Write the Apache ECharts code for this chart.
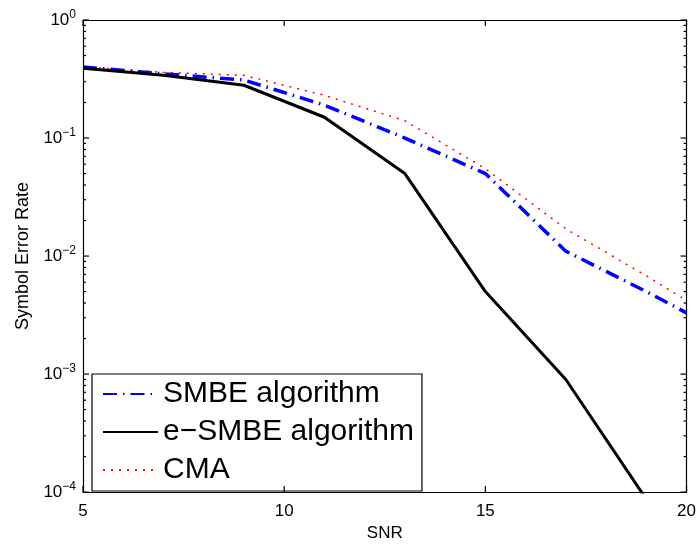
<!DOCTYPE html>
<html>
<head>
<meta charset="utf-8">
<script src="https://cdn.jsdelivr.net/npm/echarts@6/dist/echarts.min.js"></script>
<style>
  html, body { margin: 0; padding: 0; background: #fff; }
  #chart { width: 699px; height: 547px; }
</style>
</head>
<body>
<div id="chart"></div>
<script>
'use strict';

// SNR points (dB)
var snr = [5, 7, 9, 11, 13, 15, 17, 19, 20];

// symbol error rate
var smbe = [0.40, 0.35, 0.31, 0.19, 0.10, 0.05, 0.011, 0.005, 0.0033];
var esmbe = [0.39, 0.34, 0.28, 0.15, 0.05, 0.005, 0.0009, 0.000087, 0.00003];
var cma = [0.40, 0.36, 0.34, 0.23, 0.14, 0.055, 0.017, 0.0068, 0.0042];

var seriesNames = ['SMBE algorithm', 'e\u2212SMBE algorithm', 'CMA'];

// tick values
var xTicks = [5, 10, 15, 20];
var yMajor = [0.0001, 0.001, 0.01, 0.1, 1];
var yMinor = [];
for (var k = -4; k < 0; k++) {
  for (var m = 2; m <= 9; m++) {
    yMinor.push(m * Math.pow(10, k));
  }
}

var pairs = function(xs, ys) {
  return xs.map(function(x, i) { return [x, ys[i]]; });
};

var font = 'Liberation Sans, Arial, Helvetica, sans-serif';

var yLabel = {
  fontFamily: font,
  color: '#000',
  margin: 7,
  formatter: function(v) {
    var e = Math.round(Math.log(v) / Math.LN10);
    return '{b|10}{s|' + (e < 0 ? '\u2212' + (-e) : e) + '}';
  },
  rich: {
    b: { fontSize: 17, fontFamily: font, color: '#000' },
    s: { fontSize: 12, fontFamily: font, color: '#000', verticalAlign: 'bottom', padding: [0, 0, 11, 0] }
  }
};

var logAxis = function(withLabels) {
  var ax = {
    type: 'log', logBase: 10, min: 0.0001, max: 1,
    axisLine: { show: true, onZero: false, lineStyle: { color: '#000', width: 1.2 } },
    axisTick: { show: false },
    axisLabel: withLabels ? yLabel : { show: false },
    splitLine: { show: false }
  };
  if (withLabels) {
    ax.name = 'Symbol Error Rate';
    ax.nameLocation = 'middle';
    ax.nameGap = 50;
    ax.nameTextStyle = { fontFamily: font, fontSize: 18, color: '#000' };
  } else {
    ax.position = 'right';
  }
  return ax;
};

var snrAxis = function(withLabels) {
  var ax = {
    type: 'value', min: 5, max: 20, interval: 5,
    axisLine: { show: true, onZero: false, lineStyle: { color: '#000', width: 1.2 } },
    axisTick: { show: false },
    axisLabel: withLabels ? { fontFamily: font, fontSize: 17, color: '#000', margin: 11 } : { show: false },
    splitLine: { show: false }
  };
  if (withLabels) {
    ax.name = 'SNR';
    ax.nameLocation = 'middle';
    ax.nameGap = 31;
    ax.nameTextStyle = { fontFamily: font, fontSize: 17, color: '#000' };
  } else {
    ax.position = 'top';
  }
  return ax;
};

var chart = echarts.init(document.getElementById('chart'));

chart.setOption({
  animation: false,
  backgroundColor: '#fff',
  grid: { left: 83, right: 11, top: 20, bottom: 50, containLabel: false },
  xAxis: [snrAxis(true), snrAxis(false)],
  yAxis: [logAxis(true), logAxis(false)],
  legend: {
    orient: 'vertical',
    left: 92, top: 374,
    padding: [5, 8, 6, 10],
    itemWidth: 55, itemHeight: 14, itemGap: 8,
    backgroundColor: '#fff',
    borderColor: '#000', borderWidth: 1.2, borderRadius: 0,
    itemStyle: { opacity: 0 },
    textStyle: { fontFamily: font, fontSize: 30, color: '#000', lineHeight: 29 },
    data: seriesNames
  },
  series: [
    {
      name: seriesNames[0], type: 'line', data: pairs(snr, smbe),
      showSymbol: false, symbol: 'none', clip: true, z: 3,
      lineStyle: { color: '#0000ff', width: 3.5, type: [14, 6, 1.5, 6] },
      itemStyle: { color: '#0000ff' }
    },
    {
      name: seriesNames[1], type: 'line', data: pairs(snr, esmbe),
      showSymbol: false, symbol: 'none', clip: true, z: 4,
      lineStyle: { color: '#000', width: 3 },
      itemStyle: { color: '#000' }
    },
    {
      name: seriesNames[2], type: 'line', data: pairs(snr, cma),
      showSymbol: false, symbol: 'none', clip: true, z: 2,
      lineStyle: { color: '#ff0000', width: 1.5, type: [2, 6] },
      itemStyle: { color: '#ff0000' }
    }
  ]
});

// inward ticks on all four sides, placed through the axes' own scales
var drawTicks = function() {
  var x0 = chart.convertToPixel({ xAxisIndex: 0 }, 5);
  var x1 = chart.convertToPixel({ xAxisIndex: 0 }, 20);
  var y0 = chart.convertToPixel({ yAxisIndex: 0 }, 0.0001);
  var y1 = chart.convertToPixel({ yAxisIndex: 0 }, 1);
  var els = [];
  var seg = function(a, b, c, d) {
    els.push({
      type: 'line', z: 100, silent: true,
      shape: { x1: a, y1: b, x2: c, y2: d },
      style: { stroke: '#000', lineWidth: 1.2 }
    });
  };
  yMajor.forEach(function(v) {
    var y = chart.convertToPixel({ yAxisIndex: 0 }, v);
    seg(x0, y, x0 + 6, y);
    seg(x1 - 6, y, x1, y);
  });
  yMinor.forEach(function(v) {
    var y = chart.convertToPixel({ yAxisIndex: 0 }, v);
    seg(x0, y, x0 + 3, y);
    seg(x1 - 3, y, x1, y);
  });
  xTicks.forEach(function(v) {
    var x = chart.convertToPixel({ xAxisIndex: 0 }, v);
    seg(x, y0, x, y0 - 6);
    seg(x, y1, x, y1 + 6);
  });
  chart.setOption({ graphic: { elements: els } });
};

drawTicks();
</script>
</body>
</html>
